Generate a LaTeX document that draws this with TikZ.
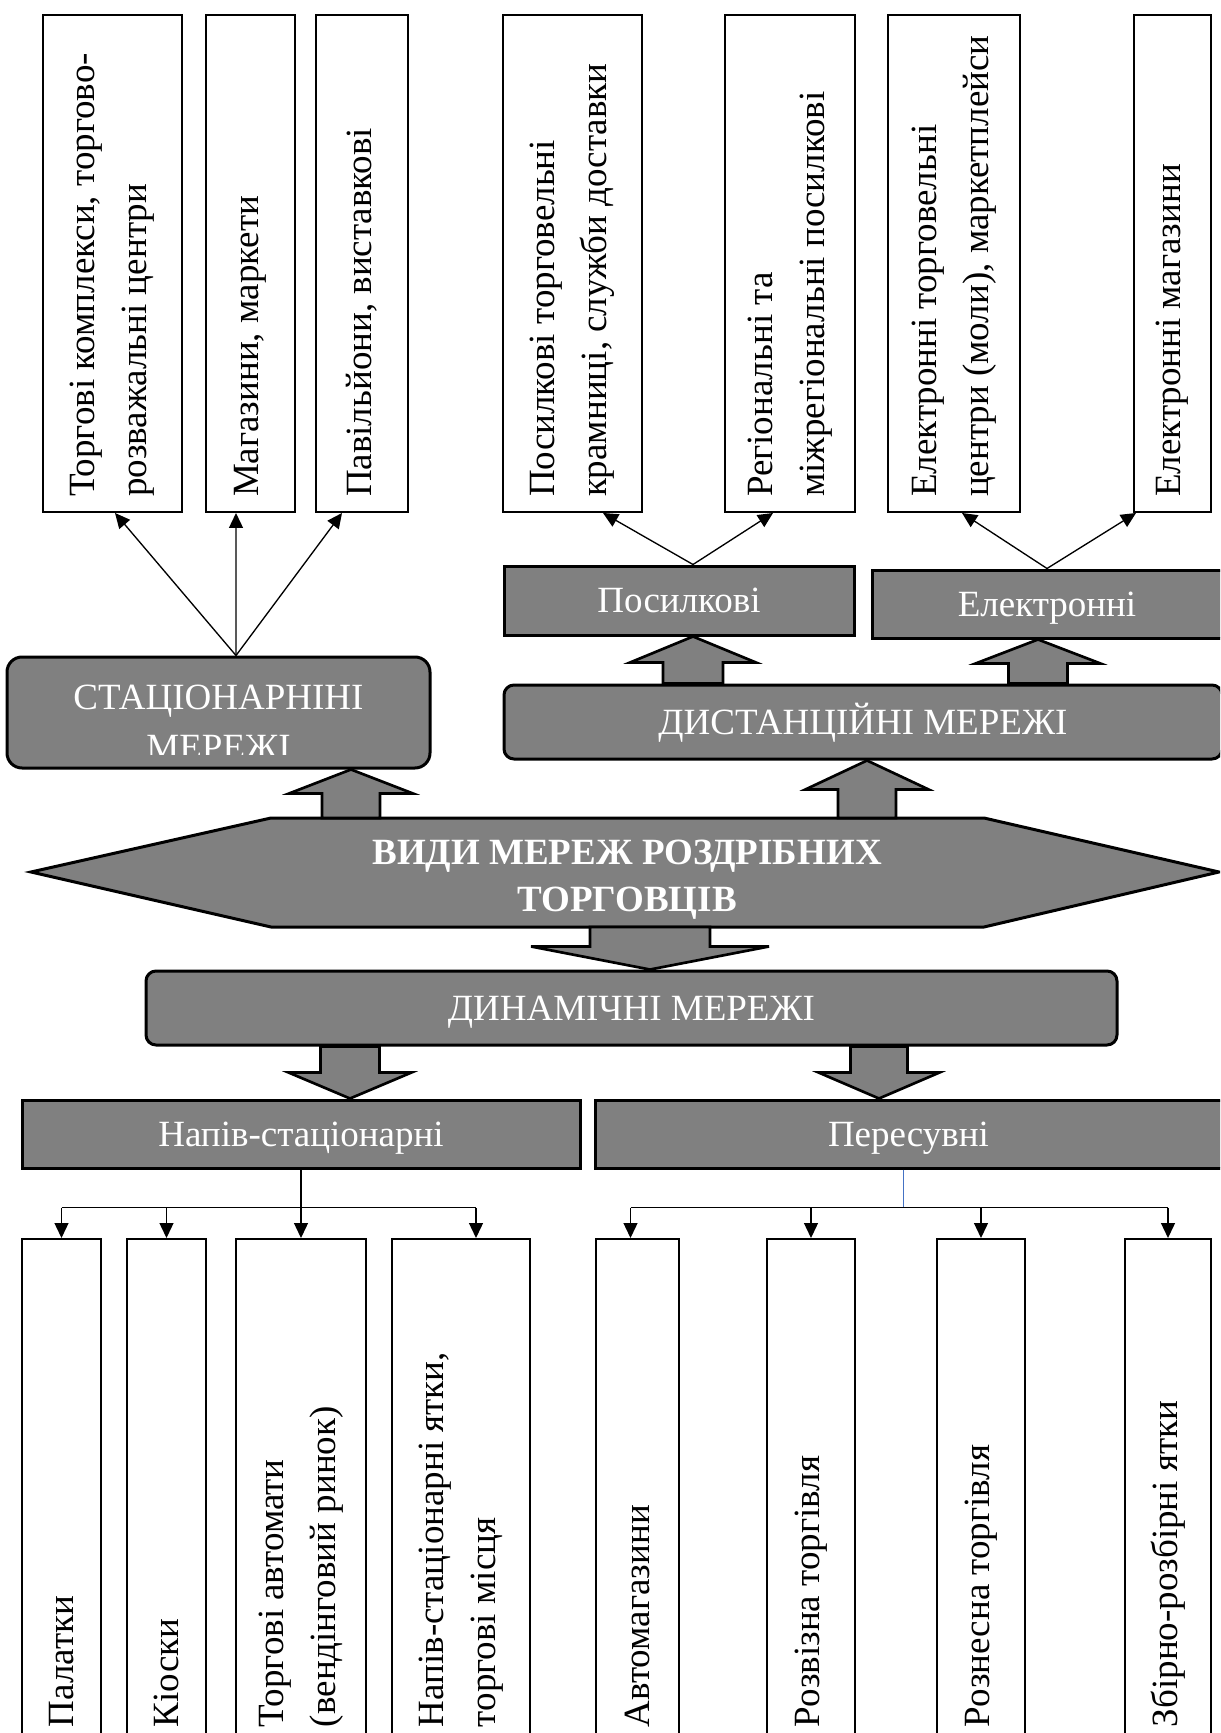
\documentclass[tikz,border=0pt]{standalone}
\usepackage{fontspec}
\setmainfont{Liberation Serif}
\usepackage{graphicx}
\usepackage{tikz}
\usetikzlibrary{arrows.meta,calc,positioning}

\definecolor{boxgray}{RGB}{128,128,128}
\definecolor{stemblue}{RGB}{68,114,196}

% rotated text, read from bottom to top
\newcommand{\vtext}[2]{\rotatebox{90}{\parbox{#1}{\raggedright #2}}}
% block arrow: tip x, tip anchor, tail anchor, shaft half, head half, head length
\newcommand{\fatarrow}[6]{%
  \draw[fat] let \p1=(#2), \p2=(#3), \p3=(#1,0), \n1={sign(\y1-\y2)} in
    (\x3,\y1) -- ({\x3+#5},{\y1-(\n1)*#6}) -- ({\x3+#4},{\y1-(\n1)*#6}) -- ({\x3+#4},\y2)
    -- ({\x3-#4},\y2) -- ({\x3-#4},{\y1-(\n1)*#6}) -- ({\x3-#5},{\y1-(\n1)*#6}) -- cycle;}

\begin{document}
\begin{tikzpicture}[
    x=0.3pt, y=-0.3pt,
    txt/.style={font=\fontsize{11.1pt}{15.6pt}\selectfont, inner sep=0pt},
    topcell/.style={txt, draw=black, line width=0.6pt, fill=white, minimum width=#1, minimum height=149.1pt},
    botcell/.style={txt, draw=black, line width=0.6pt, fill=white, minimum width=#1, minimum height=151.8pt},
    greycell/.style={txt, draw=black, line width=0.9pt, fill=boxgray, text=white, minimum width=#1, text height=7.4pt, text depth=0pt},
    wire/.style={line width=0.4pt},
    conn/.style={wire, -{Triangle[length=4.5pt,width=4.2pt]}},
    fat/.style={draw=black, line width=0.8pt, fill=boxgray, line join=miter}]
  \useasboundingbox (0,0) rectangle (1220,1733);
  \clip (0,0) rectangle (1220,1733);

  % upper row
  \path (112.5,263.5) node (tb1) [topcell=41.7pt] {\vtext{140.1pt}{Торгові комплекси, торгово-\\розважальні центри}}
        (250.5,263.5) node (tb2) [topcell=26.7pt] {\vtext{140.1pt}{Магазини, маркети}}
        (362,263.5)   node (tb3) [topcell=27.6pt] {\vtext{140.1pt}{Павільйони, виставкові}}
        (572.5,263.5) node (tb4) [topcell=41.7pt] {\vtext{140.1pt}{Посилкові торговельні\\крамниці, служби доставки}}
        (790,263.5)   node (tb5) [topcell=39pt]   {\vtext{140.1pt}{Регіональні та\\міжрегіональні посилкові}}
        (954,263.5)   node (tb6) [topcell=39.6pt] {\vtext{140.1pt}{Електронні торговельні\\центри (моли), маркетплейси}}
        (1172.5,263.5) node (tb7) [topcell=23.1pt] {\vtext{140.1pt}{Електронні магазини}};

  % grey blocks
  \path (218.5,712.5) node (stat)  [greycell=126.9pt, minimum height=33.3pt, rounded corners=4.5pt] {}
        (679,600.5)   node (posyl) [greycell=105pt, minimum height=20.7pt] {Посилкові}
        (1047,604)    node (elek)  [greycell=105pt, minimum height=20.4pt] {Електронні}
        (863,722)     node (dist)  [greycell=215.4pt, minimum height=22.2pt, rounded corners=3pt] {ДИСТАНЦІЙНІ МЕРЕЖІ}
        (631.5,1008)  node (dyn)   [greycell=291.3pt, minimum height=22.2pt, rounded corners=3pt] {ДИНАМІЧНІ МЕРЕЖІ}
        (301,1134)    node (napiv) [greycell=167.4pt, minimum height=20.4pt] {Напів-стаціонарні}
        (908.5,1134)  node (peres) [greycell=188.1pt, minimum height=20.4pt] {Пересувні};
  \begin{scope}
    \clip ($(stat.north west)+(0,3)$) rectangle ($(stat.south east)+(0,-15)$);
    \node (statlbl) [txt, text=white, align=center, font=\fontsize{11.1pt}{15pt}\selectfont, anchor=north]
      at ($(stat.north)+(0,29)$) {СТАЦІОНАРНІНІ\\МЕРЕЖІ};
  \end{scope}

  \draw[fat, line width=0.9pt] (31,872) coordinate (hw) -- (271,818) coordinate (hnw) -- (984,818) coordinate (hne)
     -- (1219,872) coordinate (he) -- (984,927) coordinate (hse) -- (271,927) coordinate (hsw) -- cycle;
  \node (vid) [txt, text=white, align=center, font=\fontsize{11.1pt}{14.1pt}\selectfont\bfseries, anchor=north]
    at (627,839) {ВИДИ МЕРЕЖ РОЗДРІБНИХ\\ТОРГОВЦІВ};

  % lower row
  \path (61.5,1492)  node (bb1) [botcell=23.7pt] {\vtext{141pt}{Палатки}}
        (166.5,1492) node (bb2) [botcell=23.7pt] {\vtext{141pt}{Кіоски}}
        (301,1492)   node (bb3) [botcell=39pt]   {\vtext{141pt}{Торгові автомати\\(вендінговий ринок)}}
        (461,1492)   node (bb4) [botcell=41.4pt] {\vtext{141pt}{Напів-стаціонарні ятки,\\торгові місця}}
        (637.5,1492) node (bb5) [botcell=24.9pt] {\vtext{141pt}{Автомагазини}}
        (811,1492)   node (bb6) [botcell=26.4pt] {\vtext{141pt}{Розвізна торгівля}}
        (981,1492)   node (bb7) [botcell=26.4pt] {\vtext{141pt}{Рознесна торгівля}}
        (1168,1492)  node (bb8) [botcell=25.8pt] {\vtext{141pt}{Збірно-розбірні ятки}};

  % block arrows
  \fatarrow{351}{stat.south}{hnw}{8.7pt}{18.6pt}{7.2pt}
  \fatarrow{867}{dist.south}{hne}{8.7pt}{18.5pt}{8.7pt}
  \fatarrow{693}{posyl.south}{dist.north}{9pt}{18.9pt}{7.8pt}
  \fatarrow{1038}{elek.south}{dist.north}{8.85pt}{18.75pt}{7.2pt}
  \fatarrow{650}{dyn.north}{hsw}{18pt}{35.7pt}{6.9pt}
  \fatarrow{350}{napiv.north}{dyn.south}{8.85pt}{18.45pt}{7.8pt}
  \fatarrow{879}{peres.north}{dyn.south}{8.55pt}{18.15pt}{7.8pt}

  % thin connectors, upper part
  \coordinate (statsrc) at ($(stat.north)+(17.5,0)$);
  \draw[conn] (statsrc) -- ($(tb1.south)+(2.5,0)$);
  \draw[conn] (statsrc) -- ($(tb2.south)+(-14.5,0)$);
  \draw[conn] (statsrc) -- ($(tb3.south)+(-20,0)$);
  \coordinate (posrc) at ($(posyl.north)+(14,0)$);
  \draw[conn] (posrc) -- ($(tb4.south)+(30.5,0)$);
  \draw[conn] (posrc) -- ($(tb5.south)+(-17,0)$);
  \draw[conn] (elek.north) -- ($(tb6.south)+(8,0)$);
  \draw[conn] (elek.north) -- ($(tb7.south)+(-36.5,0)$);

  % thin connectors, lower part
  \coordinate (nbus) at ($(napiv.south)+(0,38)$);
  \coordinate (bb4in) at ($(bb4.north)+(15,0)$);
  \draw[wire] (nbus -| bb1.north) -- (nbus -| bb4in);
  \draw[conn] (napiv.south) -- (bb3.north);
  \foreach \b in {bb1,bb2}
    \draw[conn] (nbus -| \b.north) -- (\b.north);
  \draw[conn] (nbus -| bb4in) -- (bb4in);

  \coordinate (pstem) at ($(peres.south)+(-5,0)$);
  \coordinate (pbus) at ($(pstem)+(0,38)$);
  \coordinate (bb5in) at ($(bb5.north)+(-7,0)$);
  \draw[line width=0.3pt, stemblue] (pstem) -- (pbus);
  \draw[wire] (pbus -| bb5in) -- (pbus -| bb8.north);
  \draw[conn] (pbus -| bb5in) -- (bb5in);
  \foreach \b in {bb6,bb7,bb8}
    \draw[conn] (pbus -| \b.north) -- (\b.north);
\end{tikzpicture}
\end{document}
